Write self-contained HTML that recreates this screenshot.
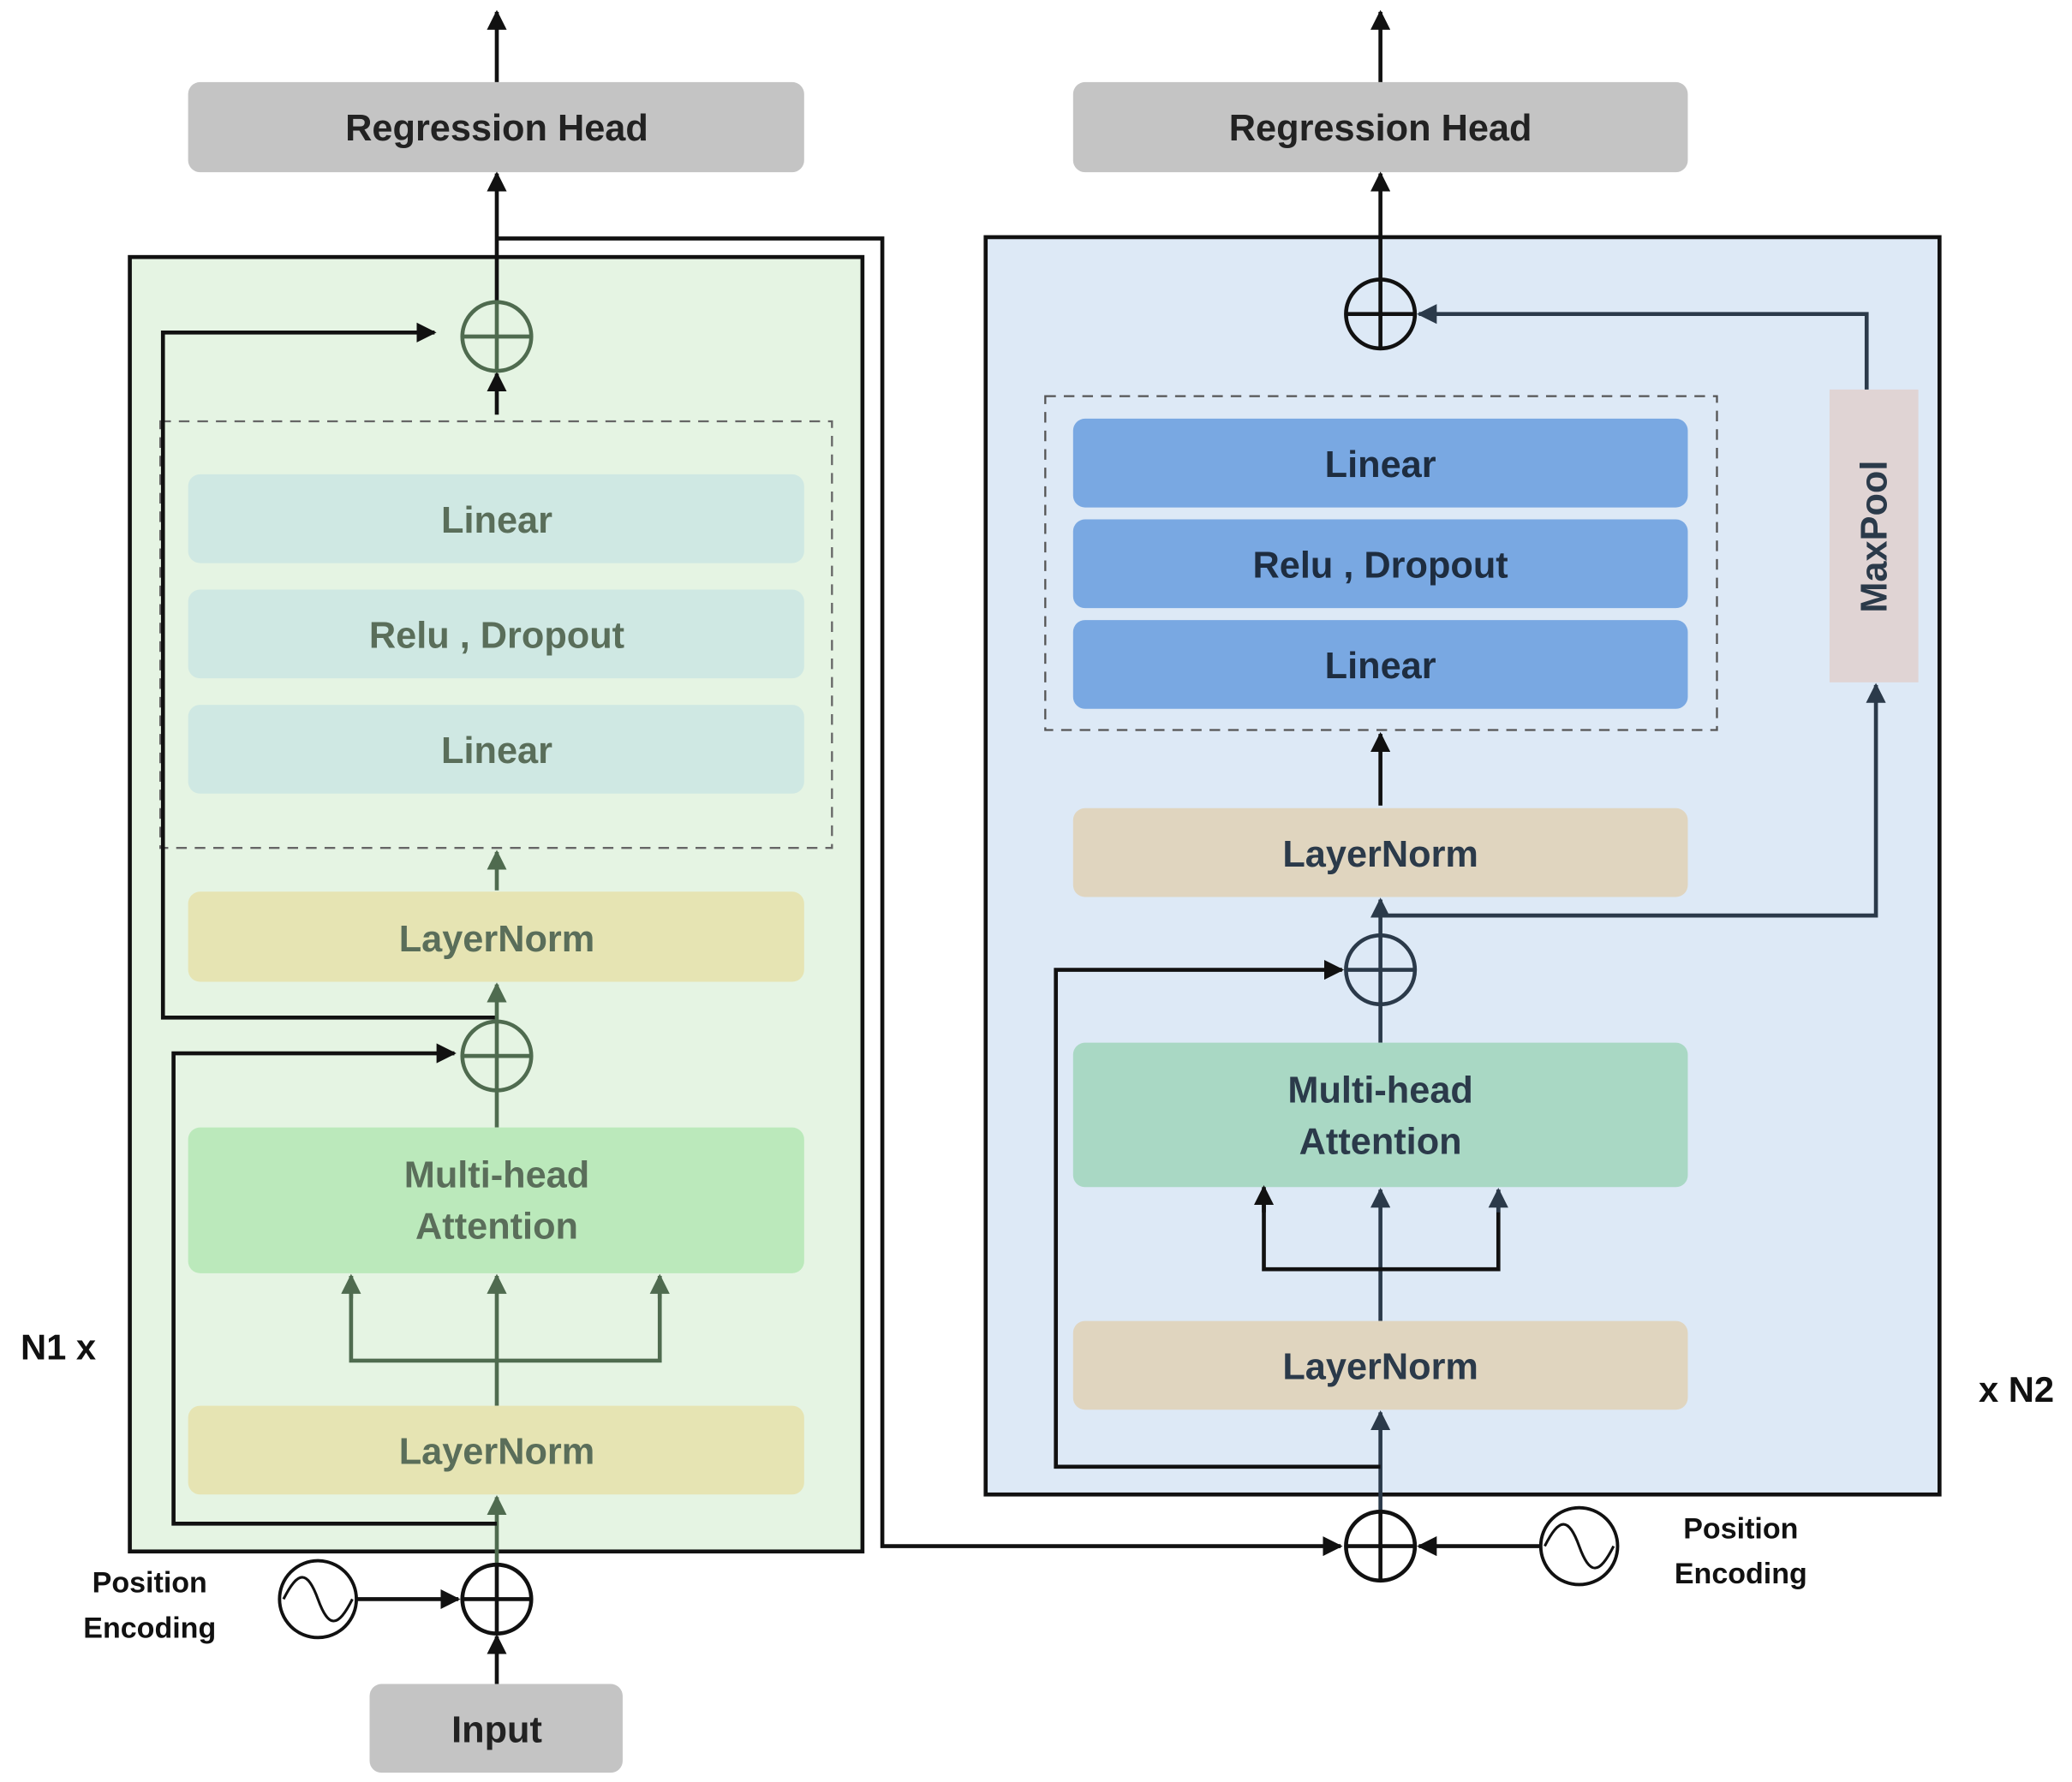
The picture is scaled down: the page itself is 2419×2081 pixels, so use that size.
<!DOCTYPE html>
<html><head><meta charset="utf-8"><style>
html,body{margin:0;padding:0;background:#fff;}
svg{display:block}
text{font-family:"Liberation Sans",sans-serif;font-weight:bold;}
</style></head><body>
<svg width="2419" height="2081" viewBox="0 0 1564 1345" preserveAspectRatio="none" xmlns="http://www.w3.org/2000/svg">
<defs>
<marker id="ab" viewBox="0 0 10 10" refX="9" refY="5" markerWidth="5" markerHeight="5" orient="auto"><path d="M0,0 L10,5 L0,10 z" fill="#111"/></marker>
<marker id="ag" viewBox="0 0 10 10" refX="9" refY="5" markerWidth="5" markerHeight="5" orient="auto"><path d="M0,0 L10,5 L0,10 z" fill="#4f6b4f"/></marker>
<marker id="ad" viewBox="0 0 10 10" refX="9" refY="5" markerWidth="5" markerHeight="5" orient="auto"><path d="M0,0 L10,5 L0,10 z" fill="#2b3a4a"/></marker>
</defs>
<!-- LEFT -->
<rect x="98" y="194" width="553" height="977" fill="#e5f4e3" stroke="#111" stroke-width="3"/>
<rect x="142" y="62" width="465" height="68" rx="9" fill="#c4c4c4"/>
<text x="375" y="106" font-size="28" text-anchor="middle" fill="#222">Regression Head</text>
<line x1="375" y1="62" x2="375" y2="9" stroke="#111" stroke-width="3" marker-end="url(#ab)"/>
<line x1="375" y1="228" x2="375" y2="131" stroke="#111" stroke-width="3" marker-end="url(#ab)"/>
<polyline points="375,180 666,180 666,1167 1012,1167" fill="none" stroke="#111" stroke-width="3" marker-end="url(#ab)"/>
<rect x="121" y="318" width="507" height="322" fill="none" stroke="#666" stroke-width="1.5" stroke-dasharray="8,6"/>
<rect x="142" y="358" width="465" height="67" rx="9" fill="#cfe8e3"/>
<text x="375" y="402" font-size="28" text-anchor="middle" fill="#5a6e5a">Linear</text>
<rect x="142" y="445" width="465" height="67" rx="9" fill="#cfe8e3"/>
<text x="375" y="489" font-size="28" text-anchor="middle" fill="#5a6e5a">Relu , Dropout</text>
<rect x="142" y="532" width="465" height="67" rx="9" fill="#cfe8e3"/>
<text x="375" y="576" font-size="28" text-anchor="middle" fill="#5a6e5a">Linear</text>
<line x1="375" y1="313" x2="375" y2="282" stroke="#111" stroke-width="3" marker-end="url(#ab)"/>
<polyline points="375,768 123,768 123,251 328,251" fill="none" stroke="#111" stroke-width="3" marker-end="url(#ab)"/>
<circle cx="375" cy="254" r="26" fill="none" stroke="#4f6b4f" stroke-width="3"/>
<line x1="349" y1="254" x2="401" y2="254" stroke="#4f6b4f" stroke-width="3"/><line x1="375" y1="228" x2="375" y2="280" stroke="#4f6b4f" stroke-width="3"/>
<line x1="375" y1="672" x2="375" y2="643" stroke="#4f6b4f" stroke-width="3" marker-end="url(#ag)"/>
<rect x="142" y="673" width="465" height="68" rx="9" fill="#e6e4b3"/>
<text x="375" y="718" font-size="28" text-anchor="middle" fill="#5a6e5a">LayerNorm</text>
<line x1="375" y1="771" x2="375" y2="743" stroke="#4f6b4f" stroke-width="3" marker-end="url(#ag)"/>
<circle cx="375" cy="797" r="26" fill="none" stroke="#4f6b4f" stroke-width="3"/>
<line x1="349" y1="797" x2="401" y2="797" stroke="#4f6b4f" stroke-width="3"/><line x1="375" y1="771" x2="375" y2="851" stroke="#4f6b4f" stroke-width="3"/>
<rect x="142" y="851" width="465" height="110" rx="9" fill="#bbe9bb"/>
<text x="375" y="896" font-size="28" text-anchor="middle" fill="#5a6e5a">Multi-head</text>
<text x="375" y="935" font-size="28" text-anchor="middle" fill="#5a6e5a">Attention</text>
<line x1="375" y1="1061" x2="375" y2="963" stroke="#4f6b4f" stroke-width="3" marker-end="url(#ag)"/>
<polyline points="265,963 265,1027 498,1027 498,963" fill="none" stroke="#4f6b4f" stroke-width="3"/>
<line x1="265" y1="980" x2="265" y2="963" stroke="#4f6b4f" stroke-width="3" marker-end="url(#ag)"/>
<line x1="498" y1="980" x2="498" y2="963" stroke="#4f6b4f" stroke-width="3" marker-end="url(#ag)"/>
<rect x="142" y="1061" width="465" height="67" rx="9" fill="#e6e4b3"/>
<text x="375" y="1105" font-size="28" text-anchor="middle" fill="#5a6e5a">LayerNorm</text>
<line x1="375" y1="1181" x2="375" y2="1130" stroke="#4f6b4f" stroke-width="3" marker-end="url(#ag)"/>
<polyline points="375,1150 131,1150 131,795 343,795" fill="none" stroke="#111" stroke-width="3" marker-end="url(#ab)"/>
<circle cx="375" cy="1207" r="26" fill="none" stroke="#111" stroke-width="3"/>
<line x1="349" y1="1207" x2="401" y2="1207" stroke="#111" stroke-width="3"/><line x1="375" y1="1181" x2="375" y2="1233" stroke="#111" stroke-width="3"/>
<circle cx="240" cy="1207" r="29" fill="none" stroke="#111" stroke-width="2.5"/>
<path d="M214,1207 C225,1185 232,1185 240,1207 C248,1229 255,1229 266,1207" fill="none" stroke="#111" stroke-width="2"/>
<line x1="269" y1="1207" x2="346" y2="1207" stroke="#111" stroke-width="3" marker-end="url(#ab)"/>
<rect x="279" y="1271" width="191" height="67" rx="9" fill="#c4c4c4"/>
<text x="375" y="1315" font-size="28" text-anchor="middle" fill="#222">Input</text>
<line x1="375" y1="1271" x2="375" y2="1235" stroke="#111" stroke-width="3" marker-end="url(#ab)"/>
<text x="113" y="1202" font-size="22" text-anchor="middle" fill="#111">Position</text>
<text x="113" y="1236" font-size="22" text-anchor="middle" fill="#111">Encoding</text>
<text x="44" y="1026" font-size="27" text-anchor="middle" fill="#111">N1 x</text>
<!-- RIGHT -->
<rect x="744" y="179" width="720" height="949" fill="#dde9f6" stroke="#111" stroke-width="3"/>
<rect x="810" y="62" width="464" height="68" rx="9" fill="#c4c4c4"/>
<text x="1042" y="106" font-size="28" text-anchor="middle" fill="#222">Regression Head</text>
<line x1="1042" y1="62" x2="1042" y2="9" stroke="#111" stroke-width="3" marker-end="url(#ab)"/>
<line x1="1042" y1="211" x2="1042" y2="131" stroke="#111" stroke-width="3" marker-end="url(#ab)"/>
<circle cx="1042" cy="237" r="26" fill="none" stroke="#111" stroke-width="3"/>
<line x1="1016" y1="237" x2="1068" y2="237" stroke="#111" stroke-width="3"/><line x1="1042" y1="211" x2="1042" y2="263" stroke="#111" stroke-width="3"/>
<rect x="1381" y="294" width="67" height="221" fill="#e0d4d4"/>
<text x="1414" y="405" font-size="28" text-anchor="middle" fill="#2b3a4a" transform="rotate(-90 1414 405)" dy="10">MaxPool</text>
<polyline points="1409,294 1409,237 1071,237" fill="none" stroke="#2b3a4a" stroke-width="3" marker-end="url(#ad)"/>
<rect x="789" y="299" width="507" height="252" fill="none" stroke="#555" stroke-width="1.5" stroke-dasharray="8,6"/>
<rect x="810" y="316" width="464" height="67" rx="9" fill="#79a8e2"/>
<text x="1042" y="360" font-size="28" text-anchor="middle" fill="#1e2d40">Linear</text>
<rect x="810" y="392" width="464" height="67" rx="9" fill="#79a8e2"/>
<text x="1042" y="436" font-size="28" text-anchor="middle" fill="#1e2d40">Relu , Dropout</text>
<rect x="810" y="468" width="464" height="67" rx="9" fill="#79a8e2"/>
<text x="1042" y="512" font-size="28" text-anchor="middle" fill="#1e2d40">Linear</text>
<line x1="1042" y1="608" x2="1042" y2="554" stroke="#111" stroke-width="3" marker-end="url(#ab)"/>
<rect x="810" y="610" width="464" height="67" rx="9" fill="#e0d5bf"/>
<text x="1042" y="654" font-size="28" text-anchor="middle" fill="#2b3a4a">LayerNorm</text>
<line x1="1042" y1="706" x2="1042" y2="679" stroke="#2b3a4a" stroke-width="3" marker-end="url(#ad)"/>
<polyline points="1042,691 1416,691 1416,517" fill="none" stroke="#2b3a4a" stroke-width="3" marker-end="url(#ad)"/>
<circle cx="1042" cy="732" r="26" fill="none" stroke="#2b3a4a" stroke-width="3"/>
<line x1="1016" y1="732" x2="1068" y2="732" stroke="#2b3a4a" stroke-width="3"/><line x1="1042" y1="706" x2="1042" y2="787" stroke="#2b3a4a" stroke-width="3"/>
<rect x="810" y="787" width="464" height="109" rx="9" fill="#a9d8c4"/>
<text x="1042" y="832" font-size="28" text-anchor="middle" fill="#2b3a4a">Multi-head</text>
<text x="1042" y="871" font-size="28" text-anchor="middle" fill="#2b3a4a">Attention</text>
<line x1="1042" y1="997" x2="1042" y2="898" stroke="#2b3a4a" stroke-width="3" marker-end="url(#ad)"/>
<polyline points="954,898 954,958 1131,958 1131,898" fill="none" stroke="#111" stroke-width="3"/>
<line x1="954" y1="915" x2="954" y2="896" stroke="#111" stroke-width="3" marker-end="url(#ab)"/>
<line x1="1131" y1="915" x2="1131" y2="898" stroke="#2b3a4a" stroke-width="3" marker-end="url(#ad)"/>
<rect x="810" y="997" width="464" height="67" rx="9" fill="#e0d5bf"/>
<text x="1042" y="1041" font-size="28" text-anchor="middle" fill="#2b3a4a">LayerNorm</text>
<line x1="1042" y1="1141" x2="1042" y2="1066" stroke="#2b3a4a" stroke-width="3" marker-end="url(#ad)"/>
<polyline points="1042,1107 797,1107 797,732 1013,732" fill="none" stroke="#111" stroke-width="3" marker-end="url(#ab)"/>
<circle cx="1042" cy="1167" r="26" fill="none" stroke="#111" stroke-width="3"/>
<line x1="1016" y1="1167" x2="1068" y2="1167" stroke="#111" stroke-width="3"/><line x1="1042" y1="1141" x2="1042" y2="1193" stroke="#111" stroke-width="3"/>
<circle cx="1192" cy="1167" r="29" fill="none" stroke="#111" stroke-width="2.5"/>
<path d="M1166,1167 C1177,1145 1184,1145 1192,1167 C1200,1189 1207,1189 1218,1167" fill="none" stroke="#111" stroke-width="2"/>
<line x1="1162" y1="1167" x2="1071" y2="1167" stroke="#111" stroke-width="3" marker-end="url(#ab)"/>
<text x="1314" y="1161" font-size="22" text-anchor="middle" fill="#111">Position</text>
<text x="1314" y="1195" font-size="22" text-anchor="middle" fill="#111">Encoding</text>
<text x="1522" y="1058" font-size="27" text-anchor="middle" fill="#111">x N2</text>
</svg>
</body></html>
